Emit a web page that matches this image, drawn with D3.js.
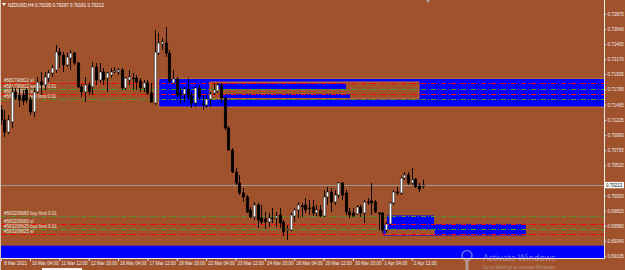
<!DOCTYPE html>
<html>
<head>
<meta charset="utf-8">
<script src="https://d3js.org/d3.v7.min.js"></script>
<style>
  html, body { margin: 0; padding: 0; background: #a0522d; overflow: hidden; }
</style>
</head>
<body>
<script>
// NZDUSD H4, bars counted from 8 Mar 2021 00:00 (bar 0); first visible bar is 5
const symbol = "NZDUSD,H4";
const firstBar = 5;

const open = [
  0.71382, 0.71226, 0.71039, 0.71195, 0.71662, 0.71615, 0.71615, 0.71693, 0.71537, 0.71351,
  0.71662, 0.71817, 0.71771, 0.71879, 0.71957, 0.72004, 0.72284, 0.72237, 0.72082, 0.72190,
  0.72268, 0.72113, 0.71740, 0.71662, 0.71771, 0.71740, 0.72051, 0.71848, 0.71973, 0.71879,
  0.71926, 0.71973, 0.71973, 0.72004, 0.71724, 0.71848, 0.71879, 0.71879, 0.71833, 0.71724,
  0.71802, 0.71646, 0.71490, 0.72268, 0.72408, 0.72424, 0.72268, 0.71802, 0.71864, 0.71646,
  0.71630, 0.71708, 0.71615, 0.71490, 0.71724, 0.71475, 0.71459, 0.71552, 0.71646, 0.71677,
  0.71771, 0.71568, 0.71101, 0.70759, 0.70417, 0.70246, 0.70090, 0.70028, 0.69826, 0.69717,
  0.69904, 0.69701, 0.69686, 0.69639, 0.69701, 0.69701, 0.69748, 0.69639, 0.69514, 0.69514,
  0.69732, 0.69826, 0.69888, 0.69904, 0.69857, 0.69872, 0.69779, 0.69826, 0.69732, 0.70028,
  0.70106, 0.69950, 0.70059, 0.70246, 0.70090, 0.69795, 0.69779, 0.69764, 0.69872, 0.69779,
  0.69950, 0.69966, 0.69950, 0.69779, 0.69779, 0.69514, 0.69608, 0.69935, 0.70106, 0.70090,
  0.70323, 0.70370, 0.70246, 0.70308, 0.70199, 0.70195
];
const high = [
  0.71459, 0.71382, 0.71304, 0.71740, 0.71724, 0.71724, 0.71693, 0.71724, 0.71584, 0.71724,
  0.71895, 0.71973, 0.71973, 0.72004, 0.72082, 0.72393, 0.72346, 0.72284, 0.72268, 0.72315,
  0.72284, 0.72128, 0.71786, 0.71895, 0.71817, 0.72128, 0.72113, 0.72113, 0.72035, 0.71973,
  0.72035, 0.72051, 0.72035, 0.72035, 0.71895, 0.72004, 0.71957, 0.71926, 0.71879, 0.71848,
  0.71848, 0.71802, 0.72626, 0.72580, 0.72502, 0.72673, 0.72315, 0.72004, 0.71895, 0.71724,
  0.71740, 0.71879, 0.71662, 0.71740, 0.71771, 0.71615, 0.71615, 0.71662, 0.71802, 0.71802,
  0.71802, 0.71584, 0.71133, 0.70790, 0.70479, 0.70370, 0.70168, 0.70059, 0.69872, 0.69950,
  0.69935, 0.69904, 0.69795, 0.69779, 0.69857, 0.69795, 0.69857, 0.69670, 0.69592, 0.69779,
  0.69857, 0.69950, 0.69935, 0.70012, 0.69981, 0.69981, 0.69904, 0.69904, 0.70137, 0.70184,
  0.70168, 0.70137, 0.70261, 0.70261, 0.70137, 0.69857, 0.69857, 0.69904, 0.69904, 0.69981,
  0.70012, 0.70246, 0.69981, 0.69795, 0.69795, 0.69639, 0.69950, 0.70137, 0.70184, 0.70339,
  0.70417, 0.70417, 0.70479, 0.70323, 0.70246, 0.70297
];
const low = [
  0.71148, 0.70962, 0.71008, 0.71101, 0.71537, 0.71428, 0.71459, 0.71490, 0.71304, 0.71273,
  0.71646, 0.71615, 0.71693, 0.71817, 0.71895, 0.71957, 0.72035, 0.71973, 0.72051, 0.72004,
  0.72082, 0.71724, 0.71584, 0.71506, 0.71615, 0.71615, 0.71771, 0.71802, 0.71771, 0.71662,
  0.71879, 0.71957, 0.71926, 0.71693, 0.71693, 0.71771, 0.71693, 0.71693, 0.71662, 0.71662,
  0.71615, 0.71490, 0.71459, 0.72237, 0.72315, 0.72206, 0.71802, 0.71771, 0.71584, 0.71490,
  0.71506, 0.71537, 0.71413, 0.71428, 0.71537, 0.71382, 0.71413, 0.71428, 0.71615, 0.71646,
  0.71490, 0.71070, 0.70744, 0.70401, 0.70215, 0.70059, 0.69950, 0.69779, 0.69701, 0.69670,
  0.69546, 0.69608, 0.69530, 0.69561, 0.69623, 0.69561, 0.69546, 0.69421, 0.69359, 0.69499,
  0.69639, 0.69701, 0.69717, 0.69779, 0.69748, 0.69732, 0.69732, 0.69717, 0.69717, 0.69904,
  0.69795, 0.69904, 0.70012, 0.69981, 0.69748, 0.69701, 0.69717, 0.69748, 0.69717, 0.69623,
  0.69904, 0.69748, 0.69779, 0.69514, 0.69468, 0.69468, 0.69592, 0.69904, 0.70059, 0.70059,
  0.70292, 0.70215, 0.70215, 0.70168, 0.70106, 0.70161
];
const close = [
  0.71226, 0.71039, 0.71226, 0.71662, 0.71568, 0.71537, 0.71521, 0.71537, 0.71351, 0.71662,
  0.71817, 0.71771, 0.71895, 0.71957, 0.72035, 0.72284, 0.72237, 0.72082, 0.72206, 0.72268,
  0.72113, 0.71740, 0.71662, 0.71771, 0.71662, 0.72051, 0.71848, 0.71973, 0.71848, 0.71957,
  0.71973, 0.71989, 0.72004, 0.71724, 0.71879, 0.71895, 0.71870, 0.71817, 0.71724, 0.71802,
  0.71646, 0.71506, 0.72284, 0.72424, 0.72440, 0.72268, 0.71817, 0.71864, 0.71615, 0.71615,
  0.71708, 0.71584, 0.71490, 0.71724, 0.71584, 0.71459, 0.71552, 0.71630, 0.71693, 0.71771,
  0.71568, 0.71101, 0.70759, 0.70417, 0.70246, 0.70090, 0.70028, 0.69795, 0.69717, 0.69904,
  0.69670, 0.69639, 0.69639, 0.69701, 0.69695, 0.69732, 0.69623, 0.69483, 0.69530, 0.69748,
  0.69826, 0.69904, 0.69880, 0.69826, 0.69850, 0.69779, 0.69826, 0.69732, 0.70028, 0.70106,
  0.69950, 0.70059, 0.70246, 0.70059, 0.69795, 0.69748, 0.69732, 0.69872, 0.69779, 0.69950,
  0.69945, 0.69935, 0.69795, 0.69764, 0.69514, 0.69608, 0.69935, 0.70106, 0.70090, 0.70323,
  0.70370, 0.70246, 0.70292, 0.70184, 0.70152, 0.70213
];

const priceTicks = [0.72875, 0.72640, 0.72405, 0.72170, 0.71935, 0.71700, 0.71465, 0.71225,
  0.70990, 0.70755, 0.70520, 0.70050, 0.69815, 0.69580, 0.69340, 0.69105];

const timeBars = [5, 13, 21, 29, 37, 45, 53, 61, 69, 77, 85, 93, 101, 109, 117];
const timeLabels = ["8 Mar 2021", "10 Mar 04:00", "11 Mar 12:00", "12 Mar 20:00", "16 Mar 04:00",
  "17 Mar 12:00", "18 Mar 20:00", "22 Mar 04:00", "23 Mar 12:00", "24 Mar 20:00", "26 Mar 04:00",
  "29 Mar 12:00", "30 Mar 20:00", "1 Apr 04:00", "2 Apr 12:00"];

const orderPrices = [0.71797, 0.71704, 0.71627, 0.71548, 0.69732, 0.69608, 0.69525, 0.69447];
const orderTypes = ["sl", "limit", "sl", "limit", "limit", "sl", "limit", "sl"];
const orderLabels = ["#581790812 sl", "#581790812 sell limit 0.01", "#581790813 sl",
  "#581790813 sell limit 0.01", "#583209680 buy limit 0.01", "#583209680 sl",
  "#583209625 buy limit 0.01", "#583209625 sl"];

// zones: bar from/to, price top/bottom
const zones = [
  {kind: "outer", from: 48.1, to: 175, top: 0.71872, bottom: 0.71428},
  {kind: "base", from: 62, to: 119, top: 0.71817, bottom: 0.71553},
  {kind: "inner", from: 64.2, to: 99.1, top: 0.71794, bottom: 0.71708},
  {kind: "inner", from: 65.6, to: 100.2, top: 0.71630, bottom: 0.71568},
  {kind: "inner", from: 0, to: 175, top: 0.69270, bottom: 0.68900},
  {kind: "inner", from: 109.3, to: 148.1, top: 0.69608, bottom: 0.69429},
  {kind: "base", from: 110, to: 123.1, top: 0.69522, bottom: 0.69445},
  {kind: "inner", from: 110.3, to: 123.1, top: 0.69740, bottom: 0.69522}
];

const bid = 0.70213;
const ohlc = [0.70195, 0.70297, 0.70161, 0.70213];

const width = 625;
const height = 270;
const chartRight = 604;
const chartBottom = 258;
const font = "'Liberation Sans', Arial, sans-serif";

const bars = open.map((o, i) => ({
  bar: firstBar + i, open: o, high: high[i], low: low[i], close: close[i]
}));

const x = d3.scaleLinear([0, 120], [-17.7, 422.7]);
const y = d3.scaleLinear([0.69105, 0.72875], [256.3, 14]);

const svg = d3.create("svg")
  .attr("width", width)
  .attr("height", height)
  .style("display", "block")
  .style("background", "#a0522d");

svg.append("clipPath").attr("id", "plot")
  .append("rect")
  .attr("x", 1).attr("y", 0)
  .attr("width", chartRight - 1).attr("height", chartBottom);

const plot = svg.append("g").attr("clip-path", "url(#plot)");

// zones
plot.append("g")
  .selectAll("rect")
  .data(zones)
  .join("rect")
  .attr("x", d => x(d.from))
  .attr("y", d => y(d.top))
  .attr("width", d => x(d.to) - x(d.from))
  .attr("height", d => y(d.bottom) - y(d.top))
  .attr("fill", d => d.kind == "base" ? "#a0522d" : "#0000ff")
  .attr("stroke", d => d.kind == "inner" ? "none" : "#e07a20")
  .attr("stroke-width", 0.8);

// order lines
plot.append("g")
  .selectAll("line")
  .data(orderPrices)
  .join("line")
  .attr("x1", 1)
  .attr("x2", chartRight)
  .attr("y1", d => Math.round(y(d)) + 0.5)
  .attr("y2", d => Math.round(y(d)) + 0.5)
  .attr("stroke", (d, i) => orderTypes[i] == "sl" ? "#ff0000" : "#4a9a2a")
  .attr("stroke-width", 1)
  .attr("stroke-dasharray", "5,2,1,2");

plot.append("g")
  .selectAll("text")
  .data(orderPrices)
  .join("text")
  .attr("x", 4)
  .attr("y", d => Math.round(y(d)) - 1)
  .text((d, i) => orderLabels[i])
  .attr("font-family", font)
  .attr("font-size", 4.5)
  .attr("fill", "#ece4dc");

// bid line
plot.append("line")
  .attr("x1", 1).attr("x2", chartRight)
  .attr("y1", Math.round(y(bid)) + 0.5)
  .attr("y2", Math.round(y(bid)) + 0.5)
  .attr("stroke", "#9a9a9a")
  .attr("stroke-width", 1);

// candles
const candle = plot.append("g")
  .selectAll("g")
  .data(bars)
  .join("g");

candle.append("line")
  .attr("x1", d => Math.round(x(d.bar)) + 0.5)
  .attr("x2", d => Math.round(x(d.bar)) + 0.5)
  .attr("y1", d => y(d.high))
  .attr("y2", d => y(d.low))
  .attr("stroke", "#000")
  .attr("stroke-width", 0.9);

candle.append("rect")
  .attr("x", d => Math.round(x(d.bar)) - 0.8)
  .attr("y", d => y(Math.max(d.open, d.close)))
  .attr("width", 2.6)
  .attr("height", d => Math.max(0.8, Math.abs(y(d.open) - y(d.close))))
  .attr("fill", d => d.close >= d.open ? "#fff" : "#000")
  .attr("stroke", "#000")
  .attr("stroke-width", 0.5);

// price axis
const yAxis = d3.axisRight(y)
  .tickValues(priceTicks)
  .tickFormat(d3.format(".5f"))
  .tickSize(2)
  .tickPadding(1.5);

svg.append("g")
  .attr("transform", `translate(${chartRight},0)`)
  .call(yAxis)
  .call(g => g.select(".domain").remove())
  .call(g => g.selectAll("line").attr("stroke", "#e8e8e8"))
  .call(g => g.selectAll("text")
    .attr("fill", "#eeeeee")
    .attr("font-family", font)
    .attr("font-size", 4.5));

// time axis
const xAxis = d3.axisBottom(x)
  .tickValues(timeBars)
  .tickFormat((d, i) => timeLabels[i])
  .tickSize(3)
  .tickPadding(1);

svg.append("g")
  .attr("transform", `translate(0,${chartBottom})`)
  .call(xAxis)
  .call(g => g.select(".domain").remove())
  .call(g => g.selectAll("line").attr("stroke", "#e8e8e8"))
  .call(g => g.selectAll("text")
    .attr("text-anchor", "start")
    .attr("dx", 1.5)
    .attr("fill", "#eeeeee")
    .attr("font-family", font)
    .attr("font-size", 4.5));

svg.selectAll(".tick").filter(d => d === firstBar).select("text").attr("x", 1.5);

// frame
svg.append("line")
  .attr("x1", chartRight + 0.5).attr("x2", chartRight + 0.5)
  .attr("y1", 0).attr("y2", chartBottom)
  .attr("stroke", "#ececec");
svg.append("line")
  .attr("x1", 0).attr("x2", chartRight + 1)
  .attr("y1", chartBottom + 0.5).attr("y2", chartBottom + 0.5)
  .attr("stroke", "#ececec");
svg.append("line")
  .attr("x1", 0.5).attr("x2", 0.5)
  .attr("y1", 0).attr("y2", height)
  .attr("stroke", "#dcc4b6");

// bid label on the price scale
svg.append("rect")
  .attr("x", chartRight + 0.5)
  .attr("y", y(bid) - 3.2)
  .attr("width", 19.5)
  .attr("height", 6.4)
  .attr("fill", "#fff");
svg.append("text")
  .attr("x", chartRight + 2)
  .attr("y", y(bid))
  .attr("dy", "0.35em")
  .text(d3.format(".5f")(bid))
  .attr("font-family", font)
  .attr("font-size", 4.5)
  .attr("fill", "#000");

// chart shift marker
svg.append("path")
  .attr("d", "M426,0L430,0L428,3Z")
  .attr("fill", "#a8a8a8");

// title
svg.append("path")
  .attr("d", "M2,3L6,3L4,6Z")
  .attr("fill", "#fff");
svg.append("text")
  .attr("x", 8)
  .attr("y", 6.5)
  .text(symbol + "  " + ohlc.map(d3.format(".5f")).join(" "))
  .attr("font-family", font)
  .attr("font-size", 4.5)
  .attr("fill", "#fff");

// terminal tab
svg.append("rect")
  .attr("x", 42).attr("y", 268)
  .attr("width", 40).attr("height", 2)
  .attr("fill", "#f4f4f4");

// windows watermark
const mark = svg.append("g").attr("fill", "rgba(205,210,222,0.55)");
mark.append("circle")
  .attr("cx", 467).attr("cy", 255.5).attr("r", 5)
  .attr("fill", "none")
  .attr("stroke", "rgba(205,210,222,0.5)")
  .attr("stroke-width", 1.6);
mark.append("rect")
  .attr("x", 465.5).attr("y", 260)
  .attr("width", 3).attr("height", 10);
mark.append("text")
  .attr("x", 483).attr("y", 261)
  .text("Activate Windows")
  .attr("font-family", "'Noto Sans', sans-serif")
  .attr("font-size", 8.8);
mark.append("text")
  .attr("x", 483).attr("y", 269.2)
  .text("Go to Settings to activate Windows.")
  .attr("font-family", "'Noto Sans', sans-serif")
  .attr("font-size", 4.4);

document.body.append(svg.node());
</script>
</body>
</html>
